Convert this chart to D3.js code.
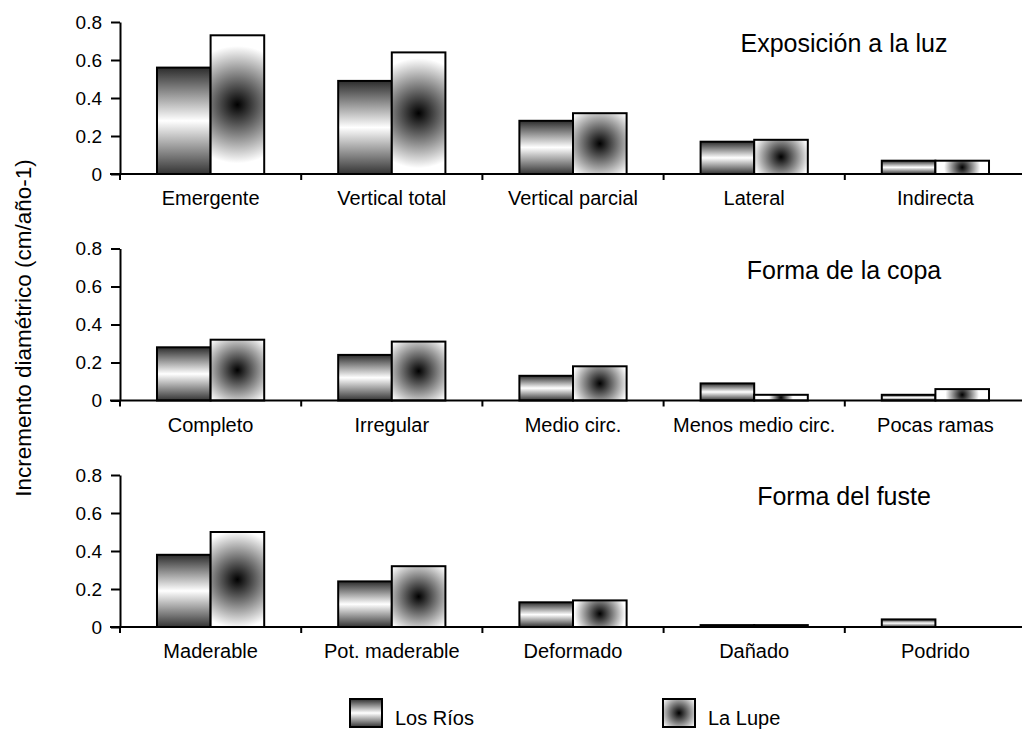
<!DOCTYPE html>
<html>
<head>
<meta charset="utf-8">
<script src="https://cdn.jsdelivr.net/npm/d3@7"></script>
<style>
  body { margin: 0; background: #fff; }
  text { font-family: "Liberation Sans", Arial, sans-serif; fill: #000; }
</style>
</head>
<body>
<svg id="chart"></svg>
<script>
// datos
const series = ["Los Ríos", "La Lupe"];
const yTicks = [0, 0.2, 0.4, 0.6, 0.8];

const luzTitle = "Exposición a la luz";
const luzCats = ["Emergente", "Vertical total", "Vertical parcial", "Lateral", "Indirecta"];
const luzRios = [0.56, 0.49, 0.28, 0.17, 0.07];
const luzLupe = [0.73, 0.64, 0.32, 0.18, 0.07];

const copaTitle = "Forma de la copa";
const copaCats = ["Completo", "Irregular", "Medio circ.", "Menos medio circ.", "Pocas ramas"];
const copaRios = [0.28, 0.24, 0.13, 0.09, 0.03];
const copaLupe = [0.32, 0.31, 0.18, 0.03, 0.06];

const fusteTitle = "Forma del fuste";
const fusteCats = ["Maderable", "Pot. maderable", "Deformado", "Dañado", "Podrido"];
const fusteRios = [0.38, 0.24, 0.13, 0.01, 0.04];
const fusteLupe = [0.50, 0.32, 0.14, 0.01, 0];

const panels = [
    { title: luzTitle, cats: luzCats, vals: [luzRios, luzLupe] },
    { title: copaTitle, cats: copaCats, vals: [copaRios, copaLupe] },
    { title: fusteTitle, cats: fusteCats, vals: [fusteRios, fusteLupe] }
];

const width = 1022;
const height = 729;
const axisX = 120;
const panelH = 152;
const panelStep = 226.5;
const firstTop = 22;

const svg = d3.select("#chart")
    .attr("width", width)
    .attr("height", height);

const defs = svg.append("defs");

// degradado horizontal (Los Ríos)
const rios = defs.append("linearGradient")
    .attr("id", "riosGrad")
    .attr("x1", 0).attr("y1", 0).attr("x2", 0).attr("y2", 1);
rios.append("stop").attr("offset", "0%").attr("stop-color", "#2c2c2c");
rios.append("stop").attr("offset", "50%").attr("stop-color", "#ffffff");
rios.append("stop").attr("offset", "100%").attr("stop-color", "#343434");

// degradado radial (La Lupe), uno por barra
let gradCount = 0;
function lupeFill(x, y, w, h) {
    const id = "lupe" + (gradCount++);
    const g = defs.append("radialGradient")
        .attr("id", id)
        .attr("gradientUnits", "userSpaceOnUse")
        .attr("cx", x + w / 2).attr("cy", y + h / 2)
        .attr("r", Math.max(6, 0.68 * Math.sqrt(w * Math.max(h, 1))));
    g.append("stop").attr("offset", "0%").attr("stop-color", "#000");
    g.append("stop").attr("offset", "100%").attr("stop-color", "#fff");
    return `url(#${id})`;
}

panels.forEach((p, pi) => {
    const top = firstTop + pi * panelStep;

    const y = d3.scaleLinear()
        .domain([0, 0.8])
        .range([top + panelH, top]);

    const x0 = d3.scaleBand()
        .domain(p.cats)
        .range([axisX, 1026])
        .padding(0);

    const x1 = d3.scaleBand()
        .domain(series)
        .range([0, x0.bandwidth()])
        .paddingInner(0)
        .paddingOuter(0.69);

    // barras
    p.cats.forEach((c, ci) => {
        series.forEach((s, si) => {
            const v = p.vals[si][ci];
            const bx = x0(c) + x1(s);
            const bw = x1.bandwidth();
            const by = y(v);
            const bh = y(0) - y(v);
            svg.append("rect")
                .attr("x", bx).attr("y", by)
                .attr("width", bw).attr("height", bh)
                .attr("fill", si === 0 ? "url(#riosGrad)" : lupeFill(bx, by, bw, bh))
                .attr("stroke", "#000")
                .attr("stroke-width", 2);
        });
    });

    // eje Y
    const gy = svg.append("g")
        .attr("transform", `translate(${axisX}, 0)`)
        .call(d3.axisLeft(y)
            .tickValues(yTicks)
            .tickFormat(d3.format(""))
            .tickSize(9)
            .tickPadding(9)
            .tickSizeOuter(0));
    gy.select(".domain").attr("stroke-width", 2);
    gy.selectAll(".tick line").attr("stroke-width", 2);
    gy.selectAll("text")
        .style("font-size", "19px")
        .style("font-family", "'Liberation Sans', Arial, sans-serif");

    // eje X
    const gx = svg.append("g")
        .attr("transform", `translate(0, ${y(0)})`)
        .call(d3.axisBottom(x0).tickSize(0).tickPadding(17));
    gx.select(".domain").remove();
    gx.selectAll("text")
        .style("font-size", "20px")
        .style("font-family", "'Liberation Sans', Arial, sans-serif");
    gx.append("line")
        .attr("x1", axisX - 10).attr("x2", width)
        .attr("stroke", "#000").attr("stroke-width", 2);
    const bounds = p.cats.map(c => x0(c)).concat([x0.range()[1]]);
    gx.selectAll(".sep")
        .data(bounds)
        .join("line")
        .attr("class", "sep")
        .attr("x1", d => d).attr("x2", d => d)
        .attr("y1", 0).attr("y2", 6)
        .attr("stroke", "#000").attr("stroke-width", 2);

    // título del panel
    svg.append("text")
        .attr("x", 844)
        .attr("y", top + 30)
        .attr("text-anchor", "middle")
        .style("font-size", "25px")
        .text(p.title);
});

// título eje Y
svg.append("text")
    .attr("transform", "rotate(-90)")
    .attr("x", -328)
    .attr("y", 31)
    .attr("text-anchor", "middle")
    .style("font-size", "22.5px")
    .text("Incremento diamétrico (cm/año-1)");

// leyenda
const legendX = [350, 663];
series.forEach((s, i) => {
    const sx = legendX[i], sy = 699, sw = 32, sh = 28;
    svg.append("rect")
        .attr("x", sx).attr("y", sy)
        .attr("width", sw).attr("height", sh)
        .attr("fill", i === 0 ? "url(#riosGrad)" : lupeFill(sx, sy, sw, sh))
        .attr("stroke", "#000")
        .attr("stroke-width", 2);
    svg.append("text")
        .attr("x", sx + 45)
        .attr("y", 725)
        .style("font-size", "20px")
        .text(s);
});
</script>
</body>
</html>
